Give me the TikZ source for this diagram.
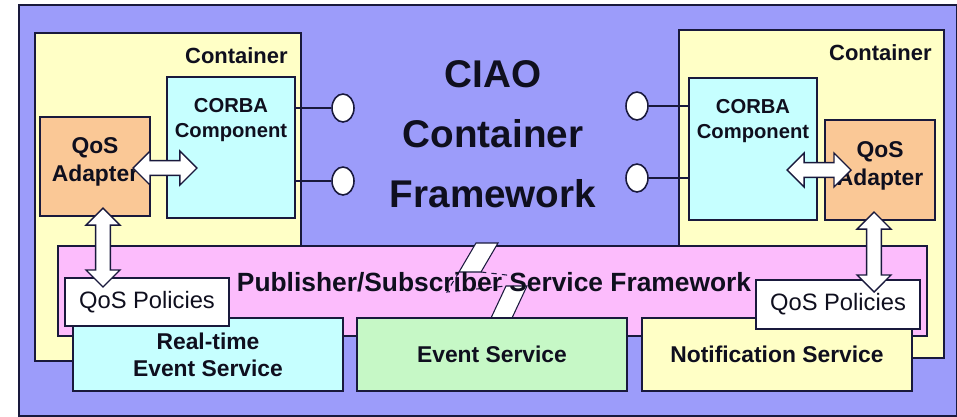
\documentclass[tikz,border=0pt]{standalone}
\usepackage{fontspec}
\setmainfont{Liberation Sans}
\usetikzlibrary{fit,shapes.geometric,shapes.arrows}

\definecolor{bgblue}{RGB}{156,156,250}
\definecolor{cyellow}{RGB}{255,255,198}
\definecolor{ccyan}{RGB}{198,255,255}
\definecolor{corange}{RGB}{250,200,150}
\definecolor{cpink}{RGB}{252,188,252}
\definecolor{cgreen}{RGB}{198,248,198}
\definecolor{edge}{RGB}{25,25,60}
\definecolor{ink}{RGB}{15,15,30}

\begin{document}
\begin{tikzpicture}[x=0.02cm,y=-0.02cm,text=ink,
  box/.style={draw=edge,line width=0.9pt,inner sep=0pt},
  lbl/.style={font=\bfseries\fontsize{13}{15.5}\selectfont,align=center},
  qos/.style={font=\fontsize{13.5}{16}\selectfont},
  port/.style={ellipse,draw=edge,fill=white,line width=0.9pt,minimum width=0.44cm,minimum height=0.56cm,inner sep=0pt},
  wire/.style={draw=edge,line width=1pt},
  fat/.style={double arrow,draw=edge,fill=white,line width=0.8pt,inner sep=3.8pt,double arrow head extend=5.5pt,minimum height=#1}]
 \useasboundingbox (0,0) rectangle (957,416);
 \draw[box,fill=bgblue] (19,5) rectangle (957,416);

 % left container
 \node[box,fill=cyellow,fit={(35,33) (301,361)}] (lcont) {};
 \node[lbl,font=\bfseries\fontsize{12.5}{15}\selectfont,anchor=base east,inner sep=0pt] (lcontl) at (288,63) {Container};
 \node[box,fill=ccyan,fit={(167,77) (295,218)}] (lcorba) {};
 \node[lbl,font=\bfseries\fontsize{11.5}{14}\selectfont] (lcorbal) at (231,120) {CORBA\\Component};
 \node[box,fill=corange,fit={(40,117) (150,216)}] (ladapt) {};
 \node[lbl] (ladaptl) at (95,162) {QoS\\Adapter};

 % right container
 \node[box,fill=cyellow,fit={(679,30) (944,358)}] (rcont) {};
 \node[lbl,font=\bfseries\fontsize{12.5}{15}\selectfont,anchor=base east,inner sep=0pt] (rcontl) at (932,60) {Container};
 \node[box,fill=ccyan,fit={(689,78) (817,220)}] (rcorba) {};
 \node[lbl,font=\bfseries\fontsize{11.5}{14}\selectfont] (rcorbal) at (753,121) {CORBA\\Component};
 \node[box,fill=corange,fit={(825,120) (935,220)}] (radapt) {};
 \node[lbl] (radaptl) at (880,166) {QoS\\Adapter};

 % publisher/subscriber bar with break mark
 \node[box,fill=cpink,fit={(58,246) (927,336)}] (bus) {};
 \draw[edge,fill=white,line width=0.6pt] (476,243) -- (498,243) -- (481,272) -- (459,272) -- cycle;
 \draw[edge,fill=white,line width=0.6pt] (506,286) -- (527,286) -- (512,318) -- (491,318) -- cycle;
 \draw[edge,dashed,line width=0.6pt] (459,272) -- (447,292) -- (506,286);
 \draw[edge,dashed,line width=0.6pt] (481,272) -- (515,276);
 \node[lbl,font=\bfseries\fontsize{15}{18}\selectfont] (busl) at (494,282) {Publisher/Subscriber Service Framework};

 % services
 \node[box,fill=ccyan,fit={(73,318) (343,391)}] (rtes) {};
 \node[lbl] at (rtes.center) {Real-time\\Event Service};
 \node[box,fill=cgreen,fit={(357,318) (627,391)}] (es) {};
 \node[lbl] at (es.center) {Event Service};
 \node[box,fill=cyellow,fit={(642,318) (912,391)}] (ns) {};
 \node[lbl] at (ns.center) {Notification Service};
 \node[box,fill=white,fit={(65,278) (229,326)}] (lqos) {};
 \node[qos] at (lqos.center) {QoS Policies};
 \node[box,fill=white,fit={(756,280) (920,329)}] (rqos) {};
 \node[qos] at (rqos.center) {QoS Policies};

 % ports
 \foreach \n/\x/\y in {pl1/343/108,pl2/343/181,pr1/637/106,pr2/637/178}
  \node[port] (\n) at (\x,\y) {};
 \draw[wire] (pl1) -- (lcorba.east |- pl1);
 \draw[wire] (pl2) -- (lcorba.east |- pl2);
 \draw[wire] (pr1) -- (rcorba.west |- pr1);
 \draw[wire] (pr2) -- (rcorba.west |- pr2);

 % fat arrows
 \node[fat=1.28cm] (lha) at (165,168) {};
 \node[fat=1.28cm] (rha) at (819,170) {};
 \node[fat=1.58cm,rotate=90] (lva) at (103,247.5) {};
 \node[fat=1.6cm,rotate=90] (rva) at (874,252) {};

 \node[font=\bfseries\fontsize{22}{34}\selectfont,align=center] (title) at (493,134) {CIAO\\Container\\Framework};
\end{tikzpicture}
\end{document}
